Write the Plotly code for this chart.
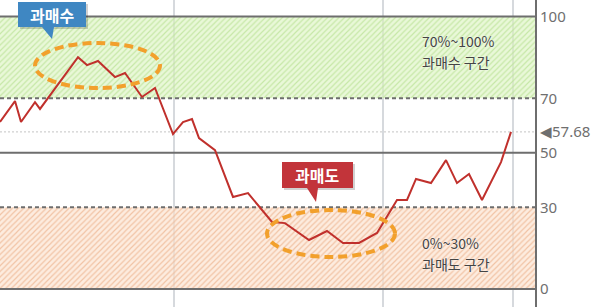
import plotly.graph_objects as go

# ---- data ----
days = [0, 15, 21, 35, 40, 78, 87, 98, 115, 125, 142, 155, 173, 183, 192, 199,
        215, 233, 248, 272, 285, 309, 327, 343, 359, 377, 397, 407, 416, 431,
        446, 457, 469, 482, 501, 511]
values = [61.3, 69.0, 61.3, 68.6, 66.1, 85.1, 82.2, 83.7, 77.8, 79.3, 70.5, 73.8,
          56.9, 61.3, 62.4, 55.4, 51.0, 33.8, 35.2, 24.6, 24.2, 18.0, 21.3, 16.9,
          16.9, 20.6, 32.7, 32.7, 40.4, 38.9, 47.3, 38.9, 42.2, 32.7, 46.6, 57.68]
last_value = 57.68
tick_vals = [0, 30, 50, 70, 100]
solid_levels = [0, 50, 100]
dash_levels = [30, 70]
overbought = (70, 100)
oversold = (0, 30)
period_marks = [174, 383, 513]

X_MAX = 535
W, H = 600, 307
FONT = "Noto Sans CJK KR"


def py(p):
    """pixel row -> paper y"""
    return 1 - p / H


fig = go.Figure()

# bands (hatched)
fig.add_trace(go.Scatter(
    x=[0, X_MAX, X_MAX, 0, 0], y=[overbought[0], overbought[0], overbought[1], overbought[1], overbought[0]],
    fill="toself", mode="none", hoverinfo="skip", showlegend=False,
    fillcolor="rgba(205,238,170,0.55)",
    fillpattern=dict(shape="/", bgcolor="rgba(218,243,190,0.6)", fgcolor="rgba(190,228,155,0.8)",
                     size=4, solidity=0.3, fillmode="replace")))
fig.add_trace(go.Scatter(
    x=[0, X_MAX, X_MAX, 0, 0], y=[oversold[0], oversold[0], oversold[1], oversold[1], oversold[0]],
    fill="toself", mode="none", hoverinfo="skip", showlegend=False,
    fillcolor="rgba(250,215,190,0.6)",
    fillpattern=dict(shape="/", bgcolor="rgba(252,226,206,0.65)", fgcolor="rgba(238,185,150,0.8)",
                     size=4, solidity=0.3, fillmode="replace")))

# reference level lines
for lv in solid_levels:
    fig.add_trace(go.Scatter(x=[0, X_MAX], y=[lv, lv], mode="lines", hoverinfo="skip",
                             showlegend=False, line=dict(color="#6e6e6e", width=2)))
for lv in dash_levels:
    fig.add_trace(go.Scatter(x=[0, X_MAX], y=[lv, lv], mode="lines", hoverinfo="skip",
                             showlegend=False, line=dict(color="#6e6e6e", width=2, dash="4px,3px")))
fig.add_trace(go.Scatter(x=[0, X_MAX], y=[last_value, last_value], mode="lines", hoverinfo="skip",
                         showlegend=False, line=dict(color="#c4c4c4", width=1, dash="2px,2px")))

# main line
fig.add_trace(go.Scatter(x=days, y=values, mode="lines", showlegend=False,
                         line=dict(color="#c0302c", width=2)))

shapes = []
# dashed ellipses
shapes.append(dict(type="circle", xref="x", yref="paper", x0=35, x1=160, y0=py(88), y1=py(43),
                   line=dict(color="#f2a02c", width=4, dash="9px,5px"), layer="above"))
shapes.append(dict(type="circle", xref="x", yref="paper", x0=267, x1=395, y0=py(257), y1=py(210),
                   line=dict(color="#f2a02c", width=4, dash="9px,5px"), layer="above"))


def callout(x0, x1, y0, y1, tail, color):
    t = tail
    path = (f"M {x0},{py(y0)} L {x1},{py(y0)} L {x1},{py(y1)} L {t[1]},{py(y1)} "
            f"L {t[2][0]},{py(t[2][1])} L {t[0]},{py(y1)} L {x0},{py(y1)} Z")
    shadow = (f"M {x0+2},{py(y0+2)} L {x1+2},{py(y0+2)} L {x1+2},{py(y1+2)} L {x0+2},{py(y1+2)} Z")
    return [dict(type="path", xref="x", yref="paper", path=shadow,
                 fillcolor="rgba(0,0,0,0.18)", line=dict(width=0), layer="above"),
            dict(type="path", xref="x", yref="paper", path=path,
                 fillcolor=color, line=dict(width=0), layer="above")]


shapes += callout(18, 86, 2, 27, (42, 54, (52, 39)), "#3f87c2")
shapes += callout(282, 353, 162, 188, (307, 318, (316, 202)), "#c2343a")

fig.update_layout(shapes=shapes)

band_font = dict(family=FONT, size=14, color="#444444", shadow="0px 0px 2px white")
band_texts = [("70%~100%", 41), ("과매수 구간", 62), ("0%~30%", 243), ("과매도 구간", 264)]
anns = [
    dict(x=52, y=py(15), xref="x", yref="paper", text="<b>과매수</b>", showarrow=False,
         xanchor="center", yanchor="middle",
         font=dict(family=FONT, size=16, color="white")),
    dict(x=317, y=py(175), xref="x", yref="paper", text="<b>과매도</b>", showarrow=False,
         xanchor="center", yanchor="middle",
         font=dict(family=FONT, size=16, color="white")),
]
for txt, row in band_texts:
    anns.append(dict(x=421, y=py(row), xref="x", yref="paper", xanchor="left", yanchor="middle",
                     text=txt, showarrow=False, font=band_font, borderpad=0))
fig.update_layout(annotations=anns)

fig.update_layout(
    width=W, height=H,
    margin=dict(l=0, r=W - X_MAX, t=0, b=0),
    paper_bgcolor="white", plot_bgcolor="white",
    xaxis=dict(range=[0, X_MAX], tickvals=period_marks, showticklabels=False,
               showgrid=True, gridcolor="#d6d9dd", gridwidth=2, zeroline=False, showline=False),
    yaxis=dict(range=[-6.6, 106.1], side="right", tickvals=tick_vals + [last_value],
               ticktext=[str(v) for v in tick_vals] + ["◀" + f"{last_value:.2f}"],
               showgrid=False, zeroline=False, showline=True, linecolor="#6e6e6e", linewidth=2,
               ticks="", tickfont=dict(family="Noto Sans", size=15, color="#6f6f6f")),
)

fig.write_html("out.html")
